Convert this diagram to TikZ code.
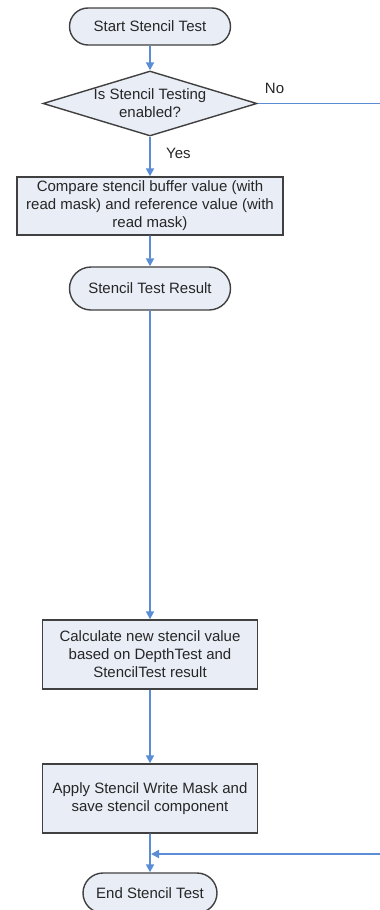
\documentclass[tikz,border=0pt]{standalone}
\usepackage{fontspec}
\setmainfont{Liberation Sans}
\usetikzlibrary{shapes.geometric, shapes.misc, arrows.meta}
\definecolor{flow}{HTML}{5B8DD6}
\definecolor{boxfill}{HTML}{E9EDF6}
\definecolor{boxline}{HTML}{404040}
\tikzset{
  txt/.style={font=\fontsize{15}{18}\selectfont, align=center, text=black!85},
  base/.style={txt, draw=boxline, fill=boxfill, line width=1.4pt, inner sep=0pt},
  terminal/.style={base, rounded rectangle},
  process/.style={base, rectangle},
  decision/.style={base, diamond},
  flowline/.style={draw=flow, line width=1.8pt},
  arrow/.style={flowline, -{Triangle[width=8pt,length=8pt]}},
}
\begin{document}
\begin{tikzpicture}[x=1pt, y=-1pt]
  \useasboundingbox (0,0) rectangle (380,910);
  \clip (0,0) rectangle (380,910);

  % nodes
  \node[terminal, minimum width=161pt, minimum height=37pt] (start) at (150,26.5) {Start Stencil Test};
  \node[decision, minimum width=214pt, minimum height=65pt] (q) at (150,103.5) {};
  \node[txt] (qtext) at (q.center) {Is Stencil Testing\\enabled?};
  \node[process, minimum width=266pt, minimum height=58pt] (cmp) at (150,206)
    {Compare stencil buffer value (with\\read mask) and reference value (with\\read mask)};
  \node[terminal, minimum width=161pt, minimum height=43pt] (res) at (150,288.5) {Stencil Test Result};
  \node[process, minimum width=215pt, minimum height=69pt] (calc) at (150,654.5)
    {Calculate new stencil value\\based on DepthTest and\\StencilTest result};
  \node[process, minimum width=215pt, minimum height=69pt] (apply) at (150,798.5)
    {Apply Stencil Write Mask and\\save stencil component};
  \node[terminal, minimum width=134pt, minimum height=40pt] (end) at (150,893) {End Stencil Test};

  \coordinate (noend) at (380,103.5);
  \coordinate (mergein) at (380,854);
  \coordinate (merge) at (151,854);

  % connectors
  \draw[arrow] (start) -- (q);
  \draw[flowline] (q.east) -- node[txt, pos=0, anchor=west, xshift=3pt, yshift=15.5pt] (no) {No} (noend);
  \draw[arrow] (q) -- node[txt, midway, anchor=west, xshift=12pt, yshift=3.5pt] (yes) {Yes} (cmp);
  \draw[arrow] (cmp) -- (res);
  \draw[arrow] (res) -- (calc);
  \draw[arrow] (calc) -- (apply);
  \draw[arrow] (apply) -- (end);
  \draw[arrow] (mergein) -- (merge);
\end{tikzpicture}
\end{document}
